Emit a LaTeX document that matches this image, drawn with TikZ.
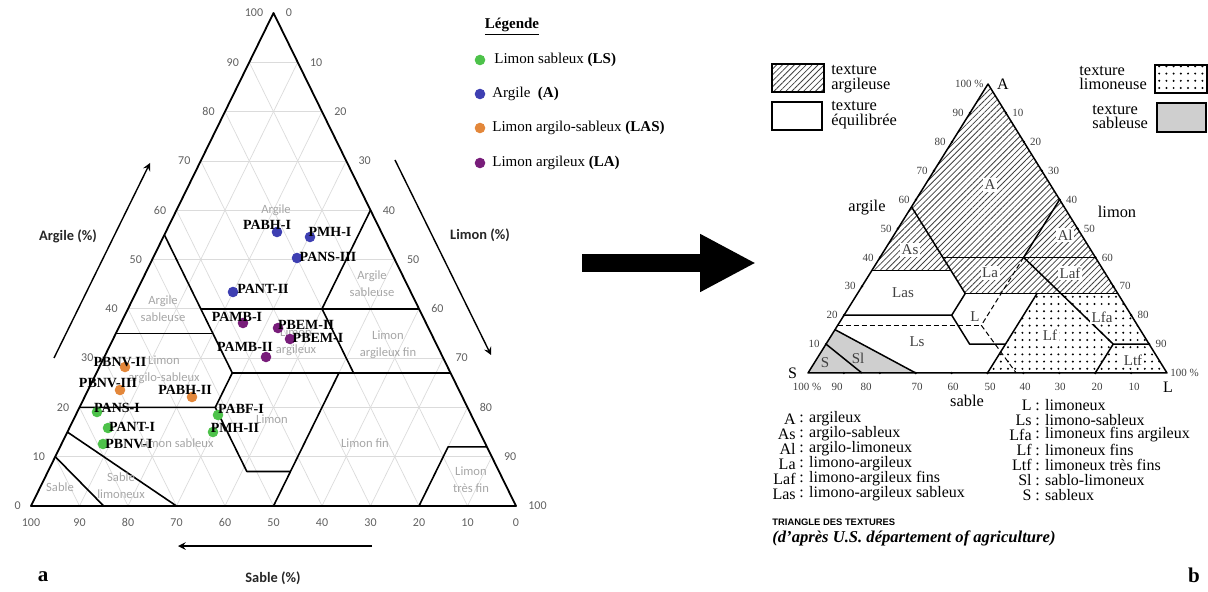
\documentclass[tikz,border=0pt]{standalone}
\usepackage{fontspec}
\setmainfont{Liberation Serif}
\newfontfamily\carlito{Carlito}
\newfontfamily\arialfont{Liberation Sans}
\usetikzlibrary{arrows.meta, patterns.meta, positioning}

\definecolor{lsgreen}{HTML}{4DC24A}
\definecolor{argblue}{HTML}{3E3FB2}
\definecolor{lasorange}{HTML}{E3873A}
\definecolor{lapurple}{HTML}{781D7A}

\tikzset{
    >=stealth, % pointes des fleches
    grid line/.style={gray!28, line width=0.35pt},
    class line/.style={line width=0.8pt, line join=round},
    frame line/.style={line width=0.9pt, line join=round},
    region/.style={font=\carlito\fontsize{6.3}{8.4}\selectfont, text=gray!70, align=center, inner sep=0pt},
    tick num/.style={font=\carlito\fontsize{6}{7}\selectfont, text=gray!75!black, inner sep=0pt},
    axis title/.style={font=\carlito\bfseries\fontsize{7.2}{8}\selectfont, text=black!85},
    axis arrow/.style={->, line width=0.7pt},
    sample/.style={circle, inner sep=0pt, minimum size=5.3pt},
    sample name/.style={font=\bfseries\fontsize{7}{8}\selectfont, inner sep=0pt},
    legend text/.style={font=\fontsize{7.5}{9}\selectfont, anchor=west, inner sep=0pt},
    % triangle b
    hatched/.style={pattern={Lines[angle=45, distance=2.1pt, line width=0.4pt]}, pattern color=black!75},
    dotted zone/.style={pattern={Dots[distance=3.6pt, radius=0.55pt]}, pattern color=black},
    sandy zone/.style={fill=gray!38},
    b line/.style={line width=0.75pt, line join=round},
    b dash/.style={line width=0.5pt, dashed, dash pattern=on 2.5pt off 1.5pt},
    edge num/.style={font=\fontsize{5.5}{6}\selectfont, text=black!75, inner sep=0pt},
    edge tick/.style={circle, fill=black, inner sep=0pt, minimum size=1.3pt},
    zone name/.style={font=\fontsize{7.5}{8}\selectfont, text=black!75, inner sep=0.8pt},
    white name/.style={zone name, fill=white},
    tex label/.style={font=\fontsize{8.2}{7.3}\selectfont, align=left, anchor=west, inner sep=0pt},
    key box/.style={line width=0.8pt},
    list abbr/.style={font=\fontsize{8}{9}\selectfont, anchor=east, inner sep=0pt},
    list text/.style={font=\fontsize{8}{9}\selectfont, anchor=west, inner sep=0pt},
    panel tag/.style={font=\bfseries\fontsize{10.5}{12}\selectfont, inner sep=0pt}
}

\begin{document}
\begin{tikzpicture}[x=0.5pt, y=-0.5pt]
    \useasboundingbox (0,0) rectangle (1208,592);

    % ===== a : triangle des textures avec les echantillons =====
    \begin{scope}[shift={(15.5pt,-253pt)}, x={(2.425pt,0pt)}, y={(1.2125pt,2.465pt)}]
        % grille
        \foreach \v in {10,20,...,90}{
            \draw[grid line] (0,\v) -- ({100-\v},\v);
            \draw[grid line] (\v,0) -- (\v,{100-\v});
            \draw[grid line] ({100-\v},0) -- (0,{100-\v});
        }
        % limites des classes
        \draw[class line] (0,55) -- (28,27) -- (28,20) -- (0,20);
        \draw[class line] (15,40) -- (60,40);
        \draw[class line] (40,60) -- (40,40) -- (53,27);
        \draw[class line] (0,35) -- (20,35);
        \draw[class line] (28,27) -- (73,27);
        \draw[class line] (28,20) -- (41,7) -- (50,7);
        \draw[class line] (50,27) -- (50,0);
        \draw[class line] (80,0) -- (80,12) -- (88,12);
        \draw[class line] (0,15) -- (30,0);
        \draw[class line] (0,10) -- (15,0);
        % cadre
        \draw[frame line] (0,0) coordinate (sa) -- (100,0) coordinate (li) -- (0,100) coordinate (ar) -- cycle;
        % graduations
        \foreach \v [evaluate=\v as \w using int(100-\v)] in {0,10,...,100}{
            \node[tick num, left=5pt] (ga\v) at (0,\v) {\v};
            \node[tick num, right=6pt] (gl\v) at (\v,\w) {\v};
            \node[tick num, below=6pt] (gs\v) at (\v,0) {\w};
        }
    \end{scope}

    % noms des classes
    \node[region] (r-a) at (276,210) {Argile};
    \node[region] (r-as) at (163,309) {Argile\\sableuse};
    \node[region] (r-al) at (372,284) {Argile\\sableuse};
    \node[region] (r-laf) at (388,345) {Limon\\argileux fin};
    \node[region] (r-la) at (296,342) {Limon\\argileux};
    \node[region] (r-las) at (164,370) {Limon\\argilo-sableux};
    \node[region] (r-ls) at (177,443) {Limon sableux};
    \node[region] (r-l) at (272,419) {Limon};
    \node[region] (r-lf) at (365,443) {Limon fin};
    \node[region] (r-ltf) at (471,480) {Limon\\très fin};
    \node[region] (r-s) at (60,487) {Sable};
    \node[region] (r-sl) at (121,486) {Sable\\limoneux};

    % axes
    \coordinate (argA) at (54,358);
    \coordinate (argB) at (150,163);
    \coordinate (limA) at (395,160);
    \coordinate (limB) at (491,355);
    \coordinate (sabA) at (372,546);
    \coordinate (sabB) at (178,546);
    \draw[axis arrow] (argA) -- (argB);
    \draw[axis arrow] (limA) -- (limB);
    \draw[axis arrow] (sabA) -- (sabB);
    \node[axis title] (t-arg) at (68,236) {Argile (\%)};
    \node[axis title] (t-lim) at (480,235) {Limon (\%)};
    \node[axis title] (t-sab) at (273,578) {Sable (\%)};

    % echantillons
    \foreach \n/\x/\y in {PANS-I/97/412, PANT-I/108/428, PBNV-I/103/444, PABF-I/218/415, PMH-II/213/432}
        \node[sample, fill=lsgreen] (\n-pt) at (\x,\y) {};
    \foreach \n/\x/\y in {PABH-I/277/232, PMH-I/310/237, PANS-III/297/258, PANT-II/233/292}
        \node[sample, fill=argblue] (\n-pt) at (\x,\y) {};
    \foreach \n/\x/\y in {PBNV-II/125/367, PBNV-III/120/390, PABH-II/192/397}
        \node[sample, fill=lasorange] (\n-pt) at (\x,\y) {};
    \foreach \n/\x/\y in {PAMB-I/243/323, PBEM-II/278/328, PBEM-I/290/339, PAMB-II/266/357}
        \node[sample, fill=lapurple] (\n-pt) at (\x,\y) {};
    \foreach \n/\x/\y in {PANS-I/117/408, PANT-I/132/427, PBNV-I/129/444, PABF-I/241/409, PMH-II/235/428,
                          PABH-I/267/225, PMH-I/330/232, PANS-III/328/257, PANT-II/263/289,
                          PBNV-II/120/362, PBNV-III/108/383, PABH-II/185/390,
                          PAMB-I/237/317, PBEM-II/306/325, PBEM-I/318/338, PAMB-II/245/347}
        \node[sample name] (\n-lbl) at (\x,\y) {\n};

    % legende
    \node[font=\bfseries\fontsize{7.5}{9}\selectfont] (leg) at (512,27) {\underline{Légende}};
    \node[sample, fill=lsgreen] (leg1) at (480,60) {};
    \node[sample, fill=argblue] (leg2) at (480,94) {};
    \node[sample, fill=lasorange] (leg3) at (480,128) {};
    \node[sample, fill=lapurple] (leg4) at (480,163) {};
    \node[legend text] (leg1t) at (494,60) {Limon sableux \textbf{(LS)}};
    \node[legend text] (leg2t) at (492,94) {Argile~~\textbf{(A)}};
    \node[legend text] (leg3t) at (492,128) {Limon argilo-sableux \textbf{(LAS)}};
    \node[legend text] (leg4t) at (492,163) {Limon argileux \textbf{(LA)}};

    \node[panel tag] (tag-a) at (43,577) {a};

    % grosse fleche
    \coordinate (bigA) at (582,263);
    \coordinate (bigB) at (756,263);
    \draw[line width=9pt, -{Triangle[length=28pt, width=27pt]}] (bigA) -- (bigB);

    % ===== b : triangle d'apres USDA =====
    \begin{scope}[shift={(404pt,-186.5pt)}, x={(1.795pt,0pt)}, y={(0.9pt,1.445pt)}]
        % zones
        \fill[hatched] (0,100) -- (0,35.5) -- (22,35.5) -- (30,27.5) -- (72.5,27.5) -- cycle;
        \fill[dotted zone] (50,27.5) -- (72.5,27.5) -- (100,0) -- (50,0) -- cycle;
        \fill[sandy zone] (0,0) -- (0,15) -- (30,0) -- cycle;
        % limites
        \draw[b line] (0,57.5) -- (30,27.5) -- (30,20) -- (0,20);
        \draw[b line] (0,35.5) -- (22,35.5);
        \draw[b line] (17.5,40) -- (60,40);
        \draw[b line] (40,60) -- (40,40) -- (80,10);
        \draw[b line] (30,27.5) -- (72.5,27.5);
        \draw[b line] (30,20) -- (40,10) -- (50,10);
        \draw[b line] (50,27.5) -- (50,0);
        \draw[b line] (80,0) -- (80,10) -- (90,10);
        \draw[b line] (0,10) -- (15,0);
        \draw[b line] (0,15) -- (30,0);
        \draw[b dash] (0,16.5) -- (40,16.5);
        \draw[b dash] (40,40) -- (40,16.5) -- (58,0);
        % cadre
        \draw[b line] (0,0) coordinate (bS) -- (100,0) coordinate (bL) -- (0,100) coordinate (bA) -- cycle;
        % graduations
        \foreach \v [evaluate=\v as \w using int(100-\v)] in {10,20,...,90}{
            \node[edge tick] (tka\v) at (0,\v) {};
            \node[edge tick] (tkl\v) at (\v,\w) {};
            \node[edge tick] (tks\v) at (\v,0) {};
            \node[edge num, left=3pt] (na\v) at (0,\v) {\v};
            \node[edge num, right=3pt] (nl\v) at (\v,\w) {\v};
        }
    \end{scope}
    \foreach \v/\x in {90/837, 80/866, 70/917, 60/953, 50/990, 40/1025, 30/1060, 20/1097, 10/1134}
        \node[edge num] (ns\v) at (\x,387) {\v};
    \node[edge num, left=2pt] (bA100) at (bA) {100 \%};
    \node[font=\fontsize{8}{9}\selectfont, right=1pt] (bAname) at (bA) {A};
    \node[font=\fontsize{8}{9}\selectfont, left=2pt] (bSname) at (bS) {S};
    \node[edge num] (bS100) at (807,387) {100 \%};
    \node[edge num, right=1.5pt] (bL100) at (bL) {100 \%};
    \node[font=\fontsize{8}{9}\selectfont] (bLname) at (1168,387) {L};
    \node[font=\fontsize{8.2}{9}\selectfont] (ax-arg) at (867,208) {argile};
    \node[font=\fontsize{8.2}{9}\selectfont] (ax-lim) at (1117,212) {limon};
    \node[font=\fontsize{8.2}{9}\selectfont] (ax-sab) at (967,401) {sable};

    % noms des zones
    \node[white name] (z-a) at (990,185) {A};
    \node[white name] (z-as) at (910,250) {As};
    \node[white name] (z-al) at (1065,235) {Al};
    \node[white name] (z-la) at (990,273) {La};
    \node[white name] (z-laf) at (1070,273) {Laf};
    \node[zone name] (z-las) at (903,293) {Las};
    \node[zone name] (z-l) at (975,317) {L};
    \node[zone name] (z-ls) at (917,342) {Ls};
    \node[white name] (z-lfa) at (1102,317) {Lfa};
    \node[white name] (z-lf) at (1050,335) {Lf};
    \node[white name] (z-ltf) at (1133,360) {Ltf};
    \node[zone name] (z-sl) at (858,358) {Sl};
    \node[zone name] (z-s) at (825,363) {S};

    % cles des textures
    \draw[key box, hatched] (772,64) rectangle (824,92);
    \draw[key box] (772,102) rectangle (822,130);
    \draw[key box, dotted zone] (1155,65) rectangle (1207,93);
    \draw[key box, sandy zone] (1157,103) rectangle (1206,132);
    \node[tex label] (k1) at (831,79) {texture\\argileuse};
    \node[tex label] (k2) at (831,115) {texture\\équilibrée};
    \node[tex label] (k3) at (1079,78) {texture\\limoneuse};
    \node[tex label] (k4) at (1092,117) {texture\\sableuse};

    % liste des abreviations
    \foreach \ab/\txt [count=\i] in {A/argileux, As/argilo-sableux, Al/argilo-limoneux, La/limono-argileux,
                                     Laf/limono-argileux fins, Las/limono-argileux sableux}{
        \node[list abbr] (ab\i) at (796,{404+15*\i}) {\ab};
        \node[list text] (tx\i) at (799,{404+15*\i}) {: \txt};
    }
    \foreach \ab/\txt [count=\i] in {L/limoneux, Ls/limono-sableux, Lfa/limoneux fins argileux, Lf/limoneux fins,
                                     Ltf/limoneux très fins, Sl/sablo-limoneux, S/sableux}{
        \node[list abbr] (abr\i) at (1032,{390+15*\i}) {\ab};
        \node[list text] (txr\i) at (1035,{390+15*\i}) {: \txt};
    }

    \node[anchor=west, inner sep=0pt, font=\arialfont\bfseries\fontsize{4.7}{5}\selectfont] (cap1) at (772,522) {TRIANGLE DES TEXTURES};
    \node[anchor=west, inner sep=0pt, font=\bfseries\itshape\fontsize{8.3}{9}\selectfont] (cap2) at (772,538) {(d'après U.S. département of agriculture)};
    \node[panel tag] (tag-b) at (1194,575) {b};
\end{tikzpicture}
\end{document}
